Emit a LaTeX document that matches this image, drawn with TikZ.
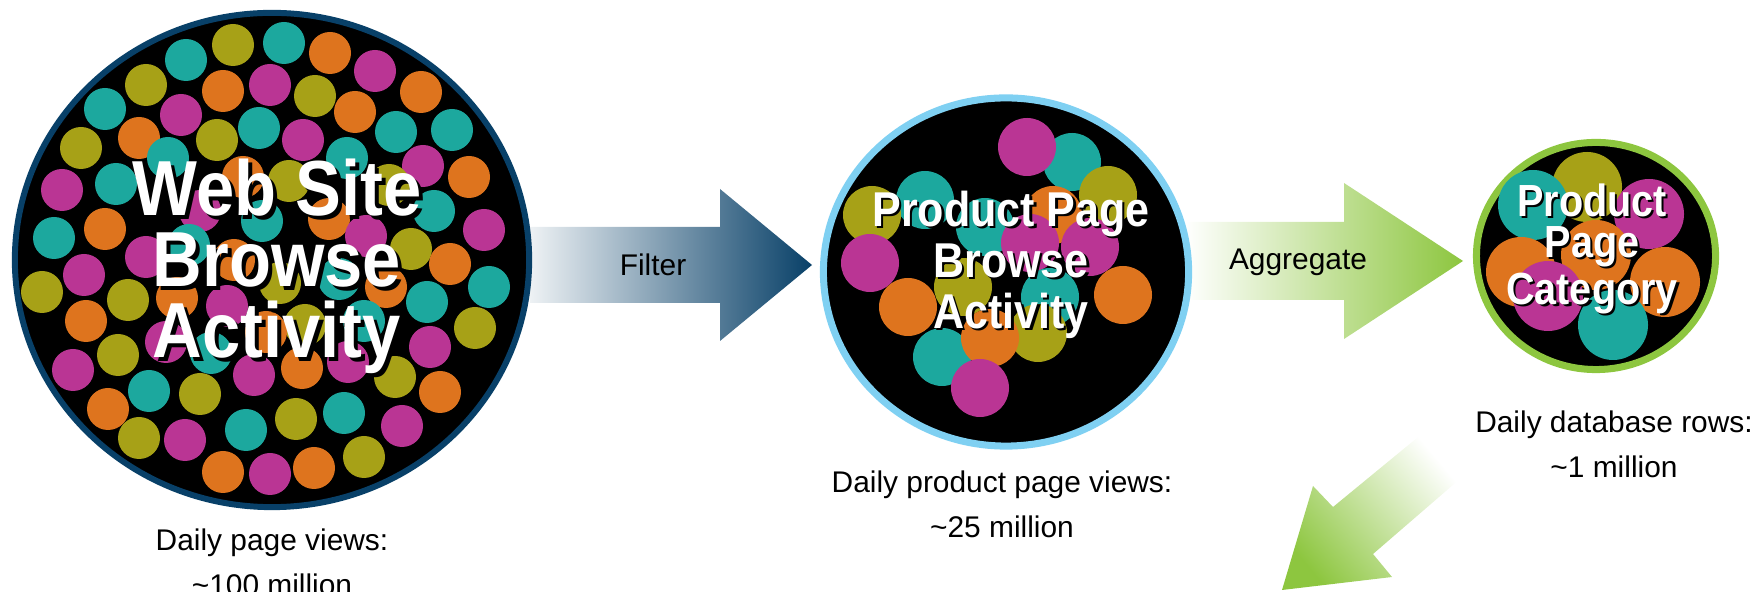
\documentclass[tikz,border=0pt]{standalone}
\usepackage{fontspec}
\setmainfont{Liberation Sans}
\newfontfamily\titlefont{Liberation Sans}[FakeStretch=0.88]
\usetikzlibrary{shapes.geometric}

\definecolor{navy}{RGB}{8,64,104}
\definecolor{skyblue}{RGB}{127,208,242}
\definecolor{leafgreen}{RGB}{141,198,63}
\definecolor{dotmag}{RGB}{186,53,148}
\definecolor{dotteal}{RGB}{28,168,158}
\definecolor{dotorange}{RGB}{222,116,30}
\definecolor{dotolive}{RGB}{167,161,23}

\newcommand{\dropshadow}[1]{\rlap{\kern.05em\raisebox{-.05em}{\color{black}#1}}#1}

\tikzset{
  pool/.style={ellipse, fill=black, inner sep=0pt},
  pooltitle/.style n args={2}{text=white, align=center, inner sep=0pt,
    font=\titlefont\bfseries\fontsize{#1}{#2}\selectfont},
  caption/.style={align=center, inner sep=0pt, font=\fontsize{8.5}{12.8}\selectfont},
}

\begin{document}
\begin{tikzpicture}[x=0.01cm, y=-0.01cm]
\useasboundingbox (0,0) rectangle (1758,592);
% block arrows first, the pools cover their tails
\shade[left color=navy!7, right color=navy] (530,227) -- (720,227) -- (720,189) -- (812,265)
  -- (720,341) -- (720,303) -- (530,303) -- cycle;
\shade[left color=white, right color=leafgreen] (1185,222) -- (1344,222) -- (1344,183) -- (1463,261)
  -- (1344,339) -- (1344,300) -- (1185,300) -- cycle;
\shade[left color=leafgreen, right color=white, shading angle=130] (1423,433) -- (1333,507) -- (1313,486)
  -- (1282,590) -- (1392,577) -- (1373,554) -- (1461,478) -- cycle;

% the three pools
\node[pool, draw=navy, line width=1.7pt, minimum width=5.14cm, minimum height=4.94cm] (web) at (272,260) {};
\node[pool, draw=skyblue, line width=2pt, minimum width=3.65cm, minimum height=3.48cm] (prod) at (1006,272) {};
\node[pool, draw=leafgreen, line width=2pt, minimum width=2.39cm, minimum height=2.27cm] (cat) at (1596,256) {};

% dots
\foreach \x/\y/\c in {233/45/dotolive, 284/43/dotteal, 330/53/dotorange, 186/60/dotteal, 375/71/dotmag,
    146/85/dotolive, 223/91/dotorange, 270/85/dotmag, 315/96/dotolive, 421/92/dotorange,
    105/109/dotteal, 181/115/dotmag, 355/112/dotorange, 396/132/dotteal, 452/130/dotteal,
    139/138/dotorange, 217/140/dotolive, 259/128/dotteal, 303/140/dotmag, 81/148/dotolive,
    168/158/dotteal, 347/158/dotteal, 423/166/dotmag, 469/177/dotorange, 62/190/dotmag,
    116/184/dotteal, 243/177/dotorange, 289/181/dotolive, 389/185/dotolive, 434/211/dotteal,
    484/230/dotmag, 105/229/dotorange, 54/238/dotteal, 146/257/dotmag, 200/211/dotmag,
    262/221/dotteal, 329/219/dotorange, 366/236/dotmag, 411/249/dotolive, 450/264/dotorange,
    84/275/dotmag, 189/245/dotteal, 234/260/dotorange, 489/287/dotteal, 42/292/dotolive,
    128/300/dotolive, 177/298/dotorange, 227/306/dotmag, 280/283/dotolive, 339/279/dotteal,
    386/287/dotorange, 427/302/dotteal, 86/321/dotorange, 475/328/dotolive, 364/321/dotteal,
    305/325/dotolive, 266/332/dotorange, 166/342/dotmag, 430/347/dotmag, 118/355/dotolive,
    73/370/dotmag, 211/353/dotteal, 254/375/dotmag, 302/368/dotorange, 348/362/dotmag,
    395/377/dotolive, 149/391/dotteal, 200/394/dotolive, 440/392/dotorange, 108/409/dotorange,
    296/419/dotolive, 344/413/dotteal, 246/430/dotteal, 402/426/dotmag, 139/438/dotolive,
    185/440/dotmag, 364/457/dotolive, 223/472/dotorange, 270/474/dotmag, 314/468/dotorange}
  \fill[\c] (\x,\y) circle[radius=21];

\foreach \x/\y/\c in {1072/162/dotteal, 1027/147/dotmag, 1108/195/dotolive, 925/200/dotteal,
    872/215/dotolive, 985/227/dotteal, 1053/215/dotorange, 1030/243/dotmag, 1090/247/dotmag,
    870/263/dotmag, 963/287/dotolive, 1050/297/dotteal, 1123/295/dotorange, 908/307/dotorange,
    942/357/dotteal, 1038/333/dotolive, 990/338/dotorange, 980/388/dotmag}
  \fill[\c] (\x,\y) circle[radius=29];

\foreach \x/\y/\c in {1587/187/dotolive, 1533/205/dotteal, 1649/214/dotmag, 1596/255/dotorange,
    1521/272/dotorange, 1665/282/dotorange, 1548/296/dotmag, 1613/325/dotteal}
  \fill[\c] (\x,\y) circle[radius=35];

% titles
\node[pooltitle={22.2}{20.2}] (webtxt) at (277,268) {\dropshadow{Web Site}\\\dropshadow{Browse}\\\dropshadow{Activity}};
\node[pooltitle={13.9}{14.5}] (prodtxt) at (1011,266) {\dropshadow{Product Page}\\\dropshadow{Browse}\\\dropshadow{Activity}};
\node[pooltitle={12.8}{11.7}] (cattxt) at (1592,250) {\dropshadow{Product}\\\dropshadow{Page}\\\dropshadow{Category}};

% arrow labels and counts
\node[caption] (filter) at (653,265) {Filter};
\node[caption] (aggregate) at (1298,262) {Aggregate};
\node[caption] (webnote) at (272,562) {Daily page views:\\\textasciitilde100 million};
\node[caption] (prodnote) at (1002,504) {Daily product page views:\\\textasciitilde25 million};
\node[caption] (catnote) at (1614,444) {Daily database rows:\\\textasciitilde1 million};
\end{tikzpicture}
\end{document}
